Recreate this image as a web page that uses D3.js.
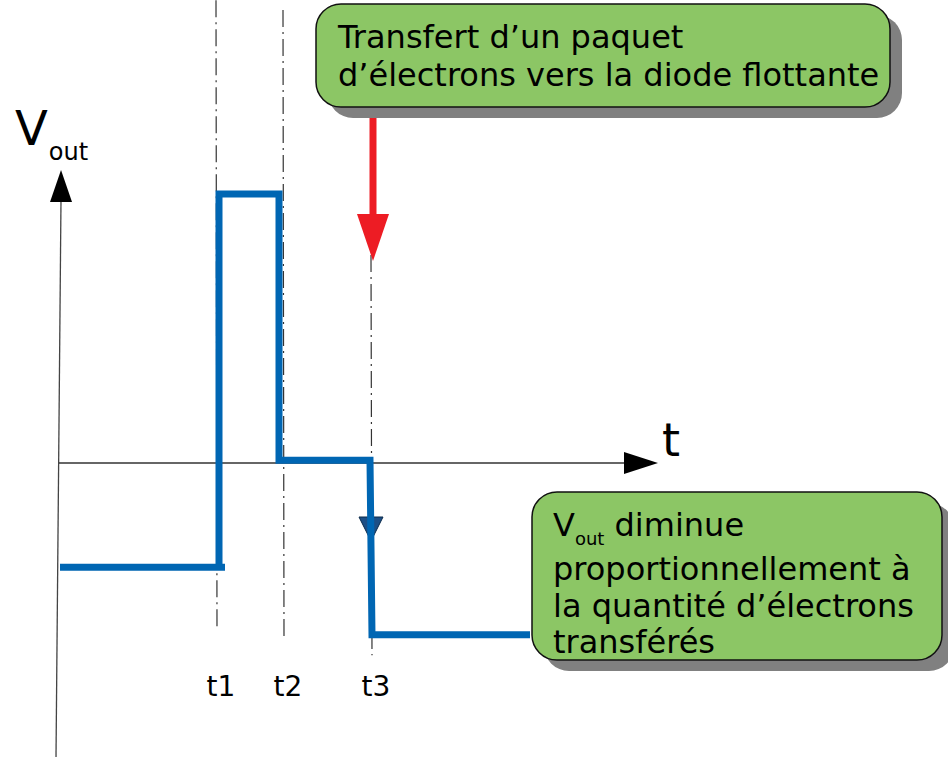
<!DOCTYPE html>
<html>
<head>
<meta charset="utf-8">
<script src="https://cdn.jsdelivr.net/npm/d3@7"></script>
<style>
  body { margin: 0; background: #fff; }
  svg { display: block; font-family: "DejaVu Sans", sans-serif; }
</style>
</head>
<body>
<div id="chart"></div>
<script>
// signal Vout(t), arbitrary units
const sigT = [0, 8.25, 7.95, 7.95, 10.95, 10.95, 15.5, 15.6, 23.5];
const sigV = [-1.93, -1.93, -1.93, 4.98, 4.98, 0.05, 0.05, -3.18, -3.18];

// instants marked on the time axis
const tickLabels = ['t1', 't2', 't3'];
const tickT = [7.85, 11.2, 15.6];
const guideTop = [8.57, 8.39, 3.85];
const guideBottom = [-3.06, -3.22, -3.56];

const noteTop = ['Transfert d\u2019un paquet', 'd\u2019\u00e9lectrons vers la diode flottante'];
const noteBottom = ['diminue', 'proportionnellement \u00e0', 'la quantit\u00e9 d\u2019\u00e9lectrons', 'transf\u00e9r\u00e9s'];

const width = 948, height = 757;
const x = d3.scaleLinear().domain([0, 30]).range([60, 660]);
const y = d3.scaleLinear().domain([0, 5]).range([463, 193]);

const svg = d3.select('#chart').append('svg')
  .attr('width', width)
  .attr('height', height);

//dash-dot guides at t1, t2, t3
svg.selectAll('.guide')
  .data(tickT)
  .enter()
  .append('line')
  .attr('class', 'guide')
  .attr('x1', d => x(d) - 1)
  .attr('x2', d => x(d))
  .attr('y1', (d, i) => y(guideTop[i]))
  .attr('y2', (d, i) => y(guideBottom[i]))
  .attr('stroke', '#333')
  .attr('stroke-width', 1.2)
  .attr('stroke-dasharray', '17,5,2,5');

svg.selectAll('.tlabel')
  .data(tickT)
  .enter()
  .append('text')
  .attr('class', 'tlabel')
  .attr('x', d => x(d) + 4)
  .attr('y', 696)
  .attr('text-anchor', 'middle')
  .attr('font-size', 28)
  .text((d, i) => tickLabels[i]);

// axes
svg.append('line')
  .attr('x1', 56).attr('y1', 757)
  .attr('x2', x(0.05)).attr('y2', 200)
  .attr('stroke', '#444').attr('stroke-width', 1.3);
svg.append('path')
  .attr('d', `M${x(0.05)},170 L72,202 L50,202 Z`)
  .attr('fill', '#000');

svg.append('line')
  .attr('x1', x(-0.05)).attr('y1', y(0))
  .attr('x2', 626).attr('y2', y(0))
  .attr('stroke', '#333').attr('stroke-width', 1.3);
svg.append('path')
  .attr('d', `M658,${y(0)} L624,${y(0) - 11} L624,${y(0) + 11} Z`)
  .attr('fill', '#000');

svg.append('text')
  .attr('x', 662).attr('y', 456)
  .attr('font-size', 46)
  .text('t');

const vt = svg.append('text').attr('x', 15).attr('y', 145);
vt.append('tspan').attr('font-size', 48).text('V');
vt.append('tspan').attr('font-size', 24).attr('dy', 15).attr('dx', 1).text('out');

// small arrow on t3
const ta = x(tickT[2]) - 1;
svg.append('line')
  .attr('x1', ta).attr('x2', ta)
  .attr('y1', y(0)).attr('y2', 522)
  .attr('stroke', '#0a2a4a').attr('stroke-width', 1.5);
svg.append('path')
  .attr('d', `M${ta - 12},517 L${ta + 12},517 L${ta},541 Z`)
  .attr('fill', '#1d4f86')
  .attr('stroke', '#0a2a4a')
  .attr('stroke-width', 1);

// signal
const line = d3.line()
  .x((d, i) => x(sigT[i]))
  .y(d => y(d));

svg.append('path')
  .datum(sigV)
  .attr('d', line)
  .attr('fill', 'none')
  .attr('stroke', '#0066b3')
  .attr('stroke-width', 7)
  .attr('stroke-linejoin', 'miter');

// red arrow from note to t3
const ra = x(tickT[2]) + 1;
svg.append('line')
  .attr('x1', ra).attr('x2', ra)
  .attr('y1', 110).attr('y2', 216)
  .attr('stroke', '#ed1c24').attr('stroke-width', 7);
svg.append('path')
  .attr('d', `M${ra - 16},214 L${ra + 16},214 L${ra},261 Z`)
  .attr('fill', '#ed1c24');

function note(bx, by, bw, bh) {
  svg.append('rect')
    .attr('x', bx + 12).attr('y', by + 11)
    .attr('width', bw).attr('height', bh)
    .attr('rx', 25)
    .attr('fill', '#808080');
  svg.append('rect')
    .attr('x', bx).attr('y', by)
    .attr('width', bw).attr('height', bh)
    .attr('rx', 25)
    .attr('fill', '#8cc665')
    .attr('stroke', '#111')
    .attr('stroke-width', 1.5);
}

note(316, 4, 574, 103);
svg.selectAll('.ntop')
  .data(noteTop)
  .enter()
  .append('text')
  .attr('class', 'ntop')
  .attr('x', 338)
  .attr('y', (d, i) => 48 + i * 38)
  .attr('font-size', 32)
  .text(d => d);

note(532, 492, 410, 168);
const nb = svg.append('text').attr('x', 553).attr('y', 536).attr('font-size', 32);
nb.append('tspan').text('V');
nb.append('tspan').attr('font-size', 18).attr('dy', 9).text('out');
nb.append('tspan').attr('dy', -9).text(' ' + noteBottom[0]);

svg.selectAll('.nbot')
  .data(noteBottom.slice(1))
  .enter()
  .append('text')
  .attr('class', 'nbot')
  .attr('x', 553)
  .attr('y', (d, i) => 580 + i * 36.5)
  .attr('font-size', 32)
  .text(d => d);
</script>
</body>
</html>
